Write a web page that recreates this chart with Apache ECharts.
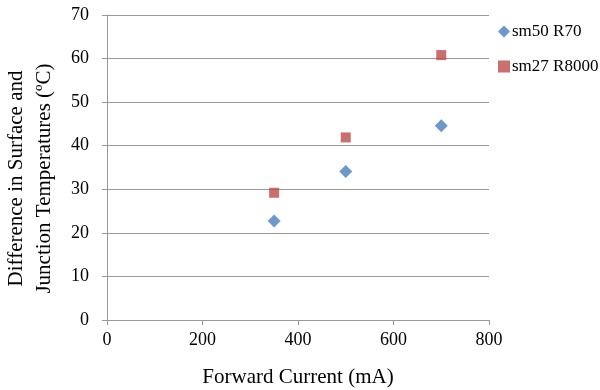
<!DOCTYPE html>
<html>
<head>
<meta charset="utf-8">
<script src="https://cdn.jsdelivr.net/npm/echarts@6/dist/echarts.min.js"></script>
<style>
  html, body { margin: 0; padding: 0; background: #fff; }
  #main { width: 600px; height: 390px; }
</style>
</head>
<body>
<div id="main"></div>
<script>
// data
var currents = [350, 500, 700];
var sm50 = [22.7, 34.1, 44.6];
var sm27 = [29.2, 41.9, 60.8];
var xTicks = [0, 200, 400, 600, 800];
var yTicks = [0, 10, 20, 30, 40, 50, 60, 70];

function pairs(xs, ys) {
  var out = [];
  for (var i = 0; i < xs.length; i++) {
    out.push([xs[i], ys[i]]);
  }
  return out;
}

var myChart = echarts.init(document.getElementById('main'));
var font = 'Liberation Serif';

var option = {
  animation: false,
  textStyle: { fontFamily: font },
  grid: { left: 107, right: 111, top: 15, bottom: 70, containLabel: false, outerBoundsMode: 'none' },
  legend: {
    orient: 'vertical',
    left: 493,
    top: 18,
    itemGap: 18,
    itemWidth: 12,
    itemHeight: 12,
    textStyle: { fontFamily: font, fontSize: 17, color: '#000', padding: [0, 0, 0, -3] },
    data: [
      { name: 'sm50 R70', icon: 'diamond' },
      { name: 'sm27 R8000', icon: 'rect' }
    ]
  },
  xAxis: {
    type: 'value',
    min: xTicks[0],
    max: xTicks[xTicks.length - 1],
    interval: 200,
    name: 'Forward Current (mA)',
    nameLocation: 'middle',
    nameGap: 47,
    nameTextStyle: { fontFamily: font, fontSize: 21, color: '#000' },
    axisLine: { lineStyle: { color: '#999' } },
    axisTick: { show: true, length: 5, lineStyle: { color: '#999' } },
    axisLabel: { fontFamily: font, fontSize: 18, color: '#000', margin: 11 },
    splitLine: { show: false }
  },
  yAxis: {
    type: 'value',
    min: yTicks[0],
    max: yTicks[yTicks.length - 1],
    interval: 10,
    name: 'Difference in Surface and\nJunction Temperatures (\u00baC)',
    nameLocation: 'middle',
    nameGap: 49,
    nameTextStyle: { fontFamily: font, fontSize: 21, color: '#000', lineHeight: 28, padding: [0, 22, 0, 0] },
    axisLine: { show: true, lineStyle: { color: '#999' } },
    axisTick: { show: true, length: 5, lineStyle: { color: '#999' } },
    axisLabel: { fontFamily: font, fontSize: 18, color: '#000', margin: 18 },
    splitLine: { show: true, lineStyle: { color: '#999' } }
  },
  series: [
    {
      name: 'sm50 R70',
      type: 'scatter',
      symbol: 'diamond',
      symbolSize: 13,
      itemStyle: { color: '#4A7EBB' },
      data: pairs(currents, sm50)
    },
    {
      name: 'sm27 R8000',
      type: 'scatter',
      symbol: 'rect',
      symbolSize: 10,
      itemStyle: { color: '#BE4B48' },
      data: pairs(currents, sm27)
    }
  ]
};

myChart.setOption(option);
</script>
</body>
</html>
